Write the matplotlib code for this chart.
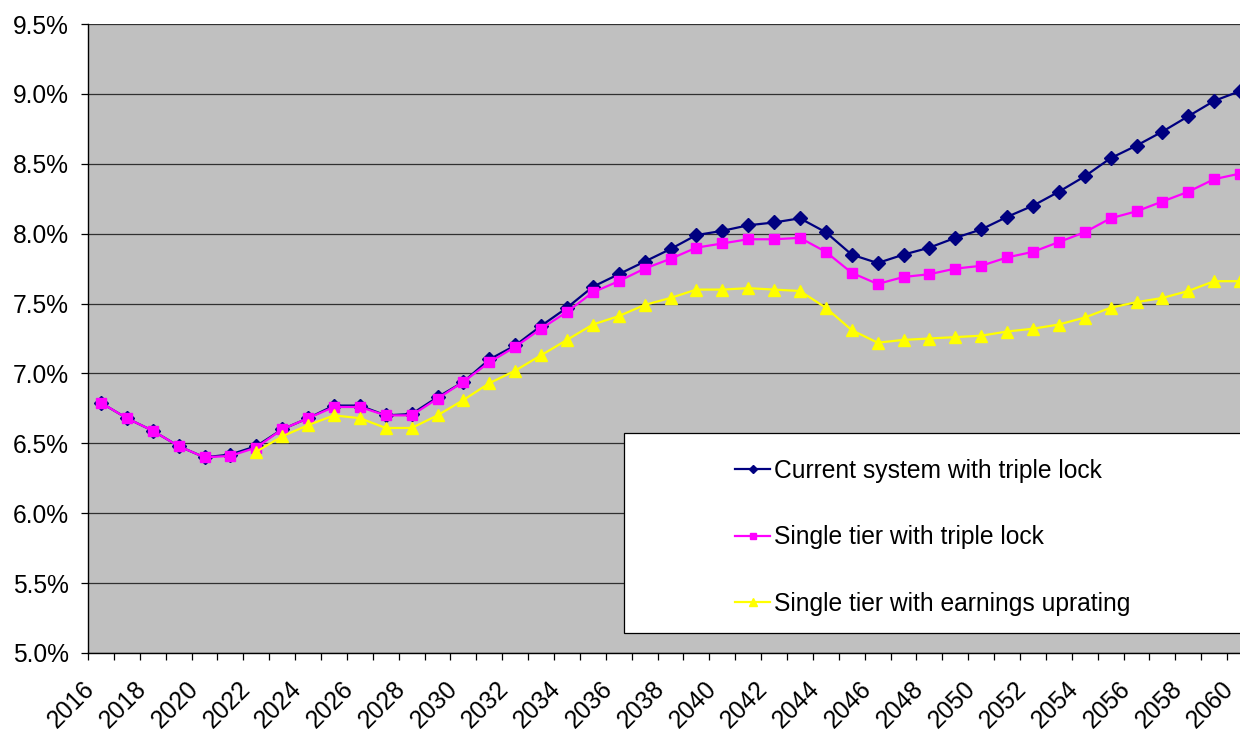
import numpy as np
import matplotlib
matplotlib.use('Agg')
import matplotlib.pyplot as plt
import matplotlib.transforms as mtransforms
from matplotlib.patches import Rectangle

plt.rcParams['font.family'] = ['Liberation Sans', 'DejaVu Sans']

years = list(range(2016, 2061))

# % values
current_triple = [6.79, 6.68, 6.59, 6.48, 6.40, 6.42, 6.48, 6.60, 6.68, 6.77,
                  6.77, 6.70, 6.71, 6.83, 6.94, 7.10, 7.20, 7.34, 7.47, 7.62,
                  7.71, 7.80, 7.89, 7.99, 8.02, 8.06, 8.08, 8.11, 8.01, 7.85,
                  7.79, 7.85, 7.90, 7.97, 8.03, 8.12, 8.20, 8.30, 8.41, 8.54,
                  8.63, 8.73, 8.84, 8.95, 9.02]
single_triple = [6.79, 6.68, 6.59, 6.48, 6.40, 6.41, 6.47, 6.60, 6.68, 6.76,
                 6.76, 6.70, 6.70, 6.82, 6.94, 7.08, 7.19, 7.32, 7.44, 7.58,
                 7.66, 7.75, 7.82, 7.90, 7.93, 7.96, 7.96, 7.97, 7.87, 7.72,
                 7.64, 7.69, 7.71, 7.75, 7.77, 7.83, 7.87, 7.94, 8.01, 8.11,
                 8.16, 8.23, 8.30, 8.39, 8.43]
single_earnings = [np.nan] * 6 + [
                   6.44, 6.55, 6.63, 6.70, 6.68, 6.61, 6.61, 6.70, 6.81, 6.93,
                   7.02, 7.13, 7.24, 7.35, 7.41, 7.49, 7.54, 7.60, 7.60, 7.61,
                   7.60, 7.59, 7.47, 7.31, 7.22, 7.24, 7.25, 7.26, 7.27, 7.30,
                   7.32, 7.35, 7.40, 7.47, 7.51, 7.54, 7.59, 7.66, 7.66]

labels = ['Current system with triple lock',
          'Single tier with triple lock',
          'Single tier with earnings uprating']

fs = 17.7

fig = plt.figure(figsize=(12.4, 7.29), dpi=100)
ax = fig.add_axes([88 / 1240, 76 / 729, 1165 / 1240, 629 / 729])
ax.set_facecolor('#C0C0C0')

x = np.arange(len(years))
ax.plot(x, current_triple, color='#000080', lw=1.6, marker='D', ms=7,
        mec='#000080', mfc='#000080', label=labels[0], zorder=3)
ax.plot(x, single_triple, color='#FF00FF', lw=1.6, marker='s', ms=7.5,
        mec='#FF00FF', mfc='#FF00FF', label=labels[1], zorder=4)
ax.plot(x, single_earnings, color='#FFFF00', lw=1.6, marker='^', ms=8.5,
        mec='#FFFF00', mfc='#FFFF00', label=labels[2], zorder=5)

ax.set_xlim(-0.5, len(years) - 0.5)
ax.set_ylim(5.0, 9.5)
yt = np.arange(5.0, 9.51, 0.5)
ax.set_yticks(yt)
ax.set_yticklabels(['%.1f%%' % v for v in yt])
ax.grid(axis='y', color='#303030', lw=0.9, zorder=1)
ax.set_axisbelow(True)

ax.set_xticks(x[::2])
ax.set_xticklabels([str(y) for y in years[::2]], rotation=45, ha='right',
                   va='center', rotation_mode='anchor')
ax.set_xticks(np.arange(-0.5, len(years), 1), minor=True)
ax.tick_params(axis='x', which='major', length=0, pad=23, labelsize=fs)
ax.tick_params(axis='x', which='minor', length=5, width=0.9, direction='out')
ax.tick_params(axis='y', length=5, width=0.9, pad=9, labelsize=fs)
shift = mtransforms.ScaledTranslation(-10 / 100, 0, fig.dpi_scale_trans)
for lab in ax.get_xticklabels():
    lab.set_transform(lab.get_transform() + shift)

for side in ['top', 'right']:
    ax.spines[side].set_visible(False)
for side in ['left', 'bottom']:
    ax.spines[side].set_linewidth(1.0)
    ax.spines[side].set_color('black')

# legend box
box = Rectangle(((624 - 88) / 1165, (653 - 633) / 629), 0.55, 200 / 629,
                transform=ax.transAxes, facecolor='white', edgecolor='black',
                lw=0.9, zorder=6, clip_on=False)
ax.add_patch(box)
leg = ax.legend(loc='upper left', bbox_to_anchor=((725 - 88) / 1165, (653 - 449) / 629),
                frameon=False, fontsize=fs, handlelength=1.45, handletextpad=0.15,
                labelspacing=1.73, markerscale=0.6, borderaxespad=0)
leg.set_zorder(7)

fig.savefig('out.png', dpi=100)
